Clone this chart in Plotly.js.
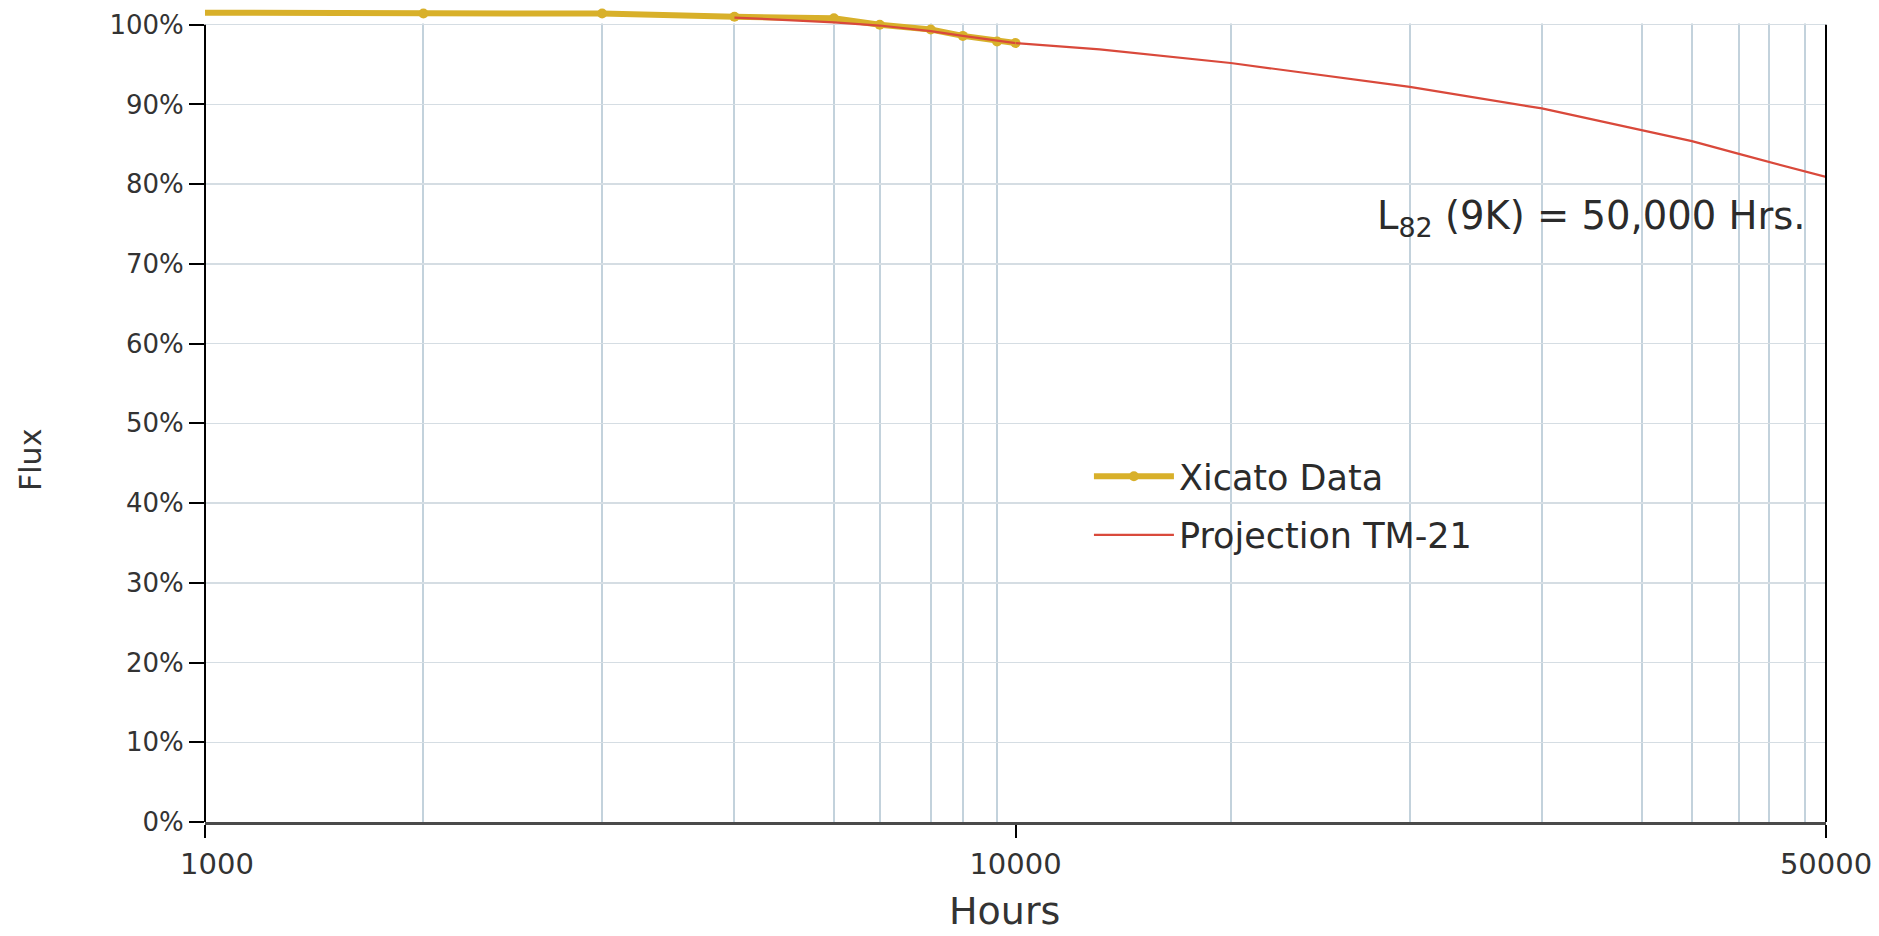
<!DOCTYPE html>
<html>
<head>
<meta charset="utf-8">
<script src="https://cdn.plot.ly/plotly-3.0.1.min.js"></script>
<style>html,body{margin:0;padding:0;background:#fff;}#chart{width:1879px;height:936px;}</style>
</head>
<body>
<div id="chart"></div>
<script>
// ---- data ----
const xicatoHours = [1000, 1860, 3090, 4500, 5970, 6800, 7860, 8610, 9490, 10000];
const xicatoFlux  = [101.5, 101.4, 101.4, 101.0, 100.8, 100.0, 99.4, 98.6, 97.9, 97.7];

const projHours = [4500, 5970, 6800, 7860, 8610, 9490, 10000, 11820, 15330, 21880, 28440, 34690, 38310, 42060, 44640, 50000];
const projFlux  = [100.9, 100.3, 99.9, 99.2, 98.6, 98.0, 97.7, 96.9, 95.2, 92.2, 89.5, 86.8, 85.4, 83.8, 82.8, 80.9];

// vertical grid positions (hours) in each half of the axis
const gridHours1 = [1860, 3090, 4500, 5970, 6800, 7860, 8610, 9490, 10000];
const gridHours2 = [15330, 21880, 28440, 34690, 38310, 42060, 44640, 47940];

const tickVals1 = [1000];
const tickText1 = ['1000'];
const tickVals2 = [10000, 50000];
const tickText2 = ['10000', '50000'];

const seriesNames = ['Xicato Data', 'Projection TM-21'];
const axisTitleX = 'Hours';
const axisTitleY = 'Flux';
const noteText = 'L<sub>82</sub> (9K) = 50,000 Hrs.';

// axis extents
const xMin1 = 1000, xMax1 = 10000, xMax2 = 50000;
const yTop = 100, yRangeMax = 102.6;

// ---- build traces ----
const p1x = [], p1y = [], p2x = [], p2y = [];
projHours.forEach((h, i) => {
  if (h <= xMax1) { p1x.push(h); p1y.push(projFlux[i]); }
  if (h >= xMax1) { p2x.push(h); p2y.push(projFlux[i]); }
});

const GOLD = '#d8b02a';
const RED = '#d9493b';
const FONT = 'DejaVu Sans, Arial, sans-serif';

const traces = [
  {
    x: xicatoHours, y: xicatoFlux, xaxis: 'x', yaxis: 'y',
    type: 'scatter', mode: 'lines+markers', name: seriesNames[0],
    line: {color: GOLD, width: 6},
    marker: {color: GOLD, size: 10},
    cliponaxis: false
  },
  {
    x: p1x, y: p1y, xaxis: 'x', yaxis: 'y',
    type: 'scatter', mode: 'lines', name: seriesNames[1], legendgroup: 'proj',
    line: {color: RED, width: 2.2},
    cliponaxis: false
  },
  {
    x: p2x, y: p2y, xaxis: 'x2', yaxis: 'y2',
    type: 'scatter', mode: 'lines', name: seriesNames[1], legendgroup: 'proj', showlegend: false,
    line: {color: RED, width: 2.2},
    cliponaxis: false
  }
];

const VGRID = '#c3d2dc';
const HGRID = '#d5dde3';
const XTICKFONT = {family: FONT, size: 29, color: '#333'};
const YTICKFONT = {family: FONT, size: 26, color: '#333'};

const xCommon = {
  type: 'log', tickmode: 'array', ticks: 'outside', ticklen: 13, tickwidth: 2, tickcolor: '#000',
  showgrid: false, zeroline: false, showline: true, linecolor: '#4a4a4a', linewidth: 3,
  tickfont: XTICKFONT, ticklabelstandoff: 1, fixedrange: true
};

const yCommon = {
  domain: [0, 1], range: [0, yRangeMax], tickmode: 'linear', tick0: 0, dtick: 10,
  showline: false, showgrid: true, gridcolor: HGRID, gridwidth: 1.5, zeroline: false, fixedrange: true
};

const layout = {
  width: 1879, height: 936,
  margin: {l: 205, r: 53, t: 4, b: 114},
  paper_bgcolor: '#ffffff', plot_bgcolor: '#ffffff',
  font: {family: FONT, color: '#333'},
  showlegend: true,
  legend: {
    x: 0.5453, y: 0.4584, xanchor: 'left', yanchor: 'top',
    itemwidth: 80,
    bgcolor: 'rgba(0,0,0,0)', borderwidth: 0,
    font: {family: FONT, size: 35, color: '#2b2b2b'}
  },
  xaxis: Object.assign({}, xCommon, {
    domain: [0, 0.5], anchor: 'y', range: [Math.log10(xMin1), Math.log10(xMax1)],
    tickvals: tickVals1, ticktext: tickText1, ticklabelshift: 12,
    minor: {tickmode: 'array', tickvals: gridHours1, showgrid: true, gridcolor: VGRID, gridwidth: 2, ticks: ''}
  }),
  xaxis2: Object.assign({}, xCommon, {
    domain: [0.5, 1], anchor: 'y2', range: [Math.log10(xMax1), Math.log10(xMax2)],
    tickvals: tickVals2, ticktext: tickText2,
    minor: {tickmode: 'array', tickvals: gridHours2, showgrid: true, gridcolor: VGRID, gridwidth: 2, ticks: ''}
  }),
  yaxis: Object.assign({}, yCommon, {
    anchor: 'x', ticksuffix: '%', ticks: 'outside', ticklen: 15, tickwidth: 2, tickcolor: '#000',
    tickfont: YTICKFONT, ticklabelstandoff: 0
  }),
  yaxis2: Object.assign({}, yCommon, {
    anchor: 'x2', matches: 'y', side: 'right', showticklabels: false, ticks: ''
  }),
  shapes: [
    // mask the strip above 100% so the grid stops at the top line (data drawn over it)
    {type: 'rect', layer: 'between', xref: 'x', yref: 'y', x0: xMin1, x1: xMax1, y0: yTop + 0.15, y1: yRangeMax + 1,
     fillcolor: '#ffffff', line: {width: 0}},
    {type: 'rect', layer: 'between', xref: 'x2', yref: 'y2', x0: xMax1, x1: xMax2, y0: yTop + 0.15, y1: yRangeMax + 1,
     fillcolor: '#ffffff', line: {width: 0}},
    // frame lines left and right, from 0% to 100%
    {type: 'line', layer: 'above', xref: 'paper', yref: 'y', x0: 0, x1: 0, y0: 0, y1: yTop,
     line: {color: '#000', width: 2}},
    {type: 'line', layer: 'above', xref: 'paper', yref: 'y', x0: 1, x1: 1, y0: 0, y1: yTop,
     line: {color: '#000', width: 2}}
  ],
  annotations: [
    {
      text: noteText, xref: 'paper', yref: 'paper', x: 0.9889, y: 0.7384,
      xanchor: 'right', yanchor: 'middle', showarrow: false,
      font: {family: FONT, size: 38.5, color: '#2b2b2b'}
    },
    {
      text: axisTitleX, xref: 'paper', yref: 'paper', x: 0.493, y: -0.1381,
      xanchor: 'center', yanchor: 'bottom', showarrow: false,
      font: {family: FONT, size: 38, color: '#333'}
    },
    {
      text: axisTitleY, xref: 'paper', yref: 'paper', x: -0.108, y: 0.4425,
      xanchor: 'center', yanchor: 'middle', showarrow: false, textangle: -90,
      font: {family: FONT, size: 30, color: '#333'}
    }
  ]
};

Plotly.newPlot('chart', traces, layout, {displayModeBar: false, staticPlot: true});
</script>
</body>
</html>
